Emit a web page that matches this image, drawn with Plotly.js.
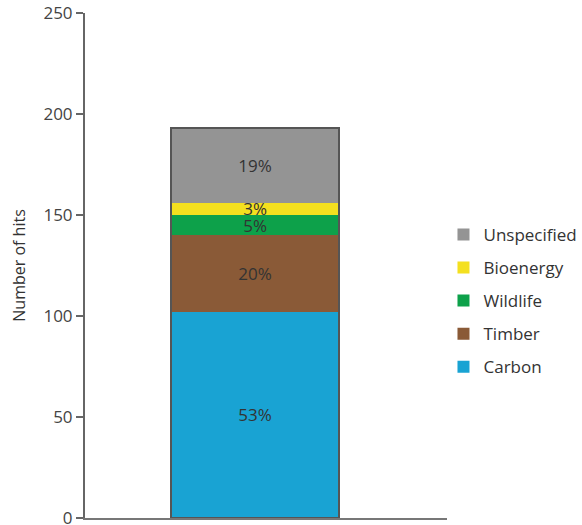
<!DOCTYPE html>
<html>
<head>
<meta charset="utf-8">
<script src="https://cdn.plot.ly/plotly-3.0.1.min.js"></script>
<style>html,body{margin:0;padding:0;background:#fff;}#chart{width:582px;height:525px;}</style>
</head>
<body>
<div id="chart"></div>
<script>
// Data
const category = ["Total"];
const seriesNames = ["Carbon", "Timber", "Wildlife", "Bioenergy", "Unspecified"];
const carbon = [102];
const timber = [38];
const wildlife = [10];
const bioenergy = [6];
const unspecified = [37];
const percentLabels = ["53%", "20%", "5%", "3%", "19%"];
const yTicks = [0, 50, 100, 150, 200, 250];

const seriesValues = [carbon, timber, wildlife, bioenergy, unspecified];
const colors = ["#19a3d3", "#8a5a37", "#0da14a", "#f4e01f", "#949494"];
const FONT = "Open Sans, Liberation Sans, sans-serif";

const traces = seriesNames.map((name, i) => ({
  type: "bar",
  name: name,
  legendgroup: name,
  legendrank: seriesNames.length - i,
  x: category,
  y: seriesValues[i],
  width: 1,
  marker: {color: colors[i], line: {width: 0}},
  text: [percentLabels[i]],
  textposition: "inside",
  insidetextanchor: "middle",
  constraintext: "none",
  textangle: 0,
  textfont: {family: FONT, size: 17, color: "#333"},
  hoverinfo: "name+y",
  cliponaxis: false
}));

const totals = category.map((c, j) => seriesValues.reduce((s, arr) => s + arr[j], 0));
traces.push({
  type: "bar",
  x: category,
  y: totals,
  width: 1,
  xaxis: "x2",
  yaxis: "y",
  marker: {color: "rgba(0,0,0,0)", line: {width: 1.5, color: "#555"}},
  showlegend: false,
  hoverinfo: "skip"
});

const xr = [-1.01, 1.14];
const layout = {
  width: 582, height: 525,
  margin: {l: 85, r: 135, t: 13, b: 7, autoexpand: false},
  paper_bgcolor: "#fff", plot_bgcolor: "#fff",
  barmode: "stack",
  showlegend: true,
  uniformtext: {mode: "show", minsize: 17},
  font: {family: FONT, color: "#333"},
  xaxis: {
    type: "category", range: xr, showticklabels: false, ticks: "",
    showgrid: false, zeroline: false, showline: true, linecolor: "#777", linewidth: 2
  },
  xaxis2: {
    type: "category", range: xr, overlaying: "x", showticklabels: false,
    showgrid: false, zeroline: false, showline: false
  },
  yaxis: {
    range: [0, 250], tickvals: yTicks, ticktext: yTicks.map(String),
    ticks: "outside", ticklen: 7, tickwidth: 2, tickcolor: "#666",
    ticklabeloverflow: "allow",
    showgrid: false, zeroline: false, showline: true, linecolor: "#666", linewidth: 2,
    tickfont: {family: FONT, size: 17, color: "#444"},
    title: {text: "Number of hits", font: {family: FONT, size: 16, color: "#333"}, standoff: 14}
  },
  legend: {
    xref: "container", yref: "container",
    x: 0.762, xanchor: "left", y: 0.427, yanchor: "middle",
    traceorder: "grouped",
    font: {family: FONT, size: 17, color: "#333"},
    tracegroupgap: 8, bgcolor: "rgba(0,0,0,0)"
  }
};

Plotly.newPlot("chart", traces, layout, {displayModeBar: false, staticPlot: true});
</script>
</body>
</html>
